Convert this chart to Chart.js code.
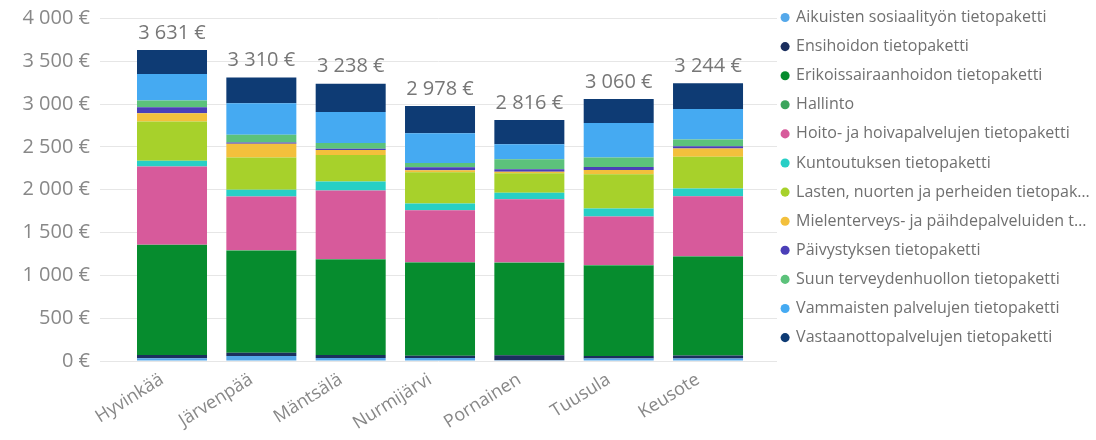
<!DOCTYPE html>
<html lang="fi">
<head>
<meta charset="utf-8">
<script src="https://cdn.jsdelivr.net/npm/chart.js@4.4.1/dist/chart.umd.min.js"></script>
<style>
    html, body { margin: 0; padding: 0; background: #ffffff; }
    #wrap { width: 1096px; height: 440px; }
</style>
</head>
<body>
<div id="wrap"><canvas id="costChart"></canvas></div>
<script>
const municipalities = ["Hyvinkää", "Järvenpää", "Mäntsälä", "Nurmijärvi", "Pornainen", "Tuusula", "Keusote"];
const totals = [3631, 3310, 3238, 2978, 2816, 3060, 3244];
const yTickValues = [0, 500, 1000, 1500, 2000, 2500, 3000, 3500, 4000];

const seriesNames = [
    "Aikuisten sosiaalityön tietopaketti",
    "Ensihoidon tietopaketti",
    "Erikoissairaanhoidon tietopaketti",
    "Hallinto",
    "Hoito- ja hoivapalvelujen tietopaketti",
    "Kuntoutuksen tietopaketti",
    "Lasten, nuorten ja perheiden tietopaketti",
    "Mielenterveys- ja päihdepalveluiden tietopaketti",
    "Päivystyksen tietopaketti",
    "Suun terveydenhuollon tietopaketti",
    "Vammaisten palvelujen tietopaketti",
    "Vastaanottopalvelujen tietopaketti"
];

// € per asukas, luettu kuvasta
const aikuistenSosiaalityo = [31, 58, 35, 35, 8, 30, 30];
const ensihoito = [39, 39, 35, 25, 60, 28, 35];
const erikoissairaanhoito = [1284, 1191, 1116, 1089, 1077, 1058, 1155];
const hallinto = [4, 4, 4, 4, 4, 4, 4];
const hoitoJaHoiva = [914, 630, 801, 607, 739, 568, 700];
const kuntoutus = [66, 78, 105, 78, 78, 93, 90];
const lastenNuortenPerheiden = [459, 377, 311, 366, 226, 400, 370];
const mielenterveysPaihde = [97, 160, 58, 23, 19, 51, 97];
const paivystys = [70, 15, 15, 35, 27, 35, 27];
const suunTerveydenhuolto = [78, 89, 66, 51, 117, 109, 78];
const vammaistenPalvelut = [311, 370, 362, 346, 175, 404, 358];
const vastaanottopalvelut = [278, 299, 330, 319, 286, 280, 300];

const seriesValues = [
    aikuistenSosiaalityo, ensihoito, erikoissairaanhoito, hallinto, hoitoJaHoiva, kuntoutus,
    lastenNuortenPerheiden, mielenterveysPaihde, paivystys, suunTerveydenhuolto,
    vammaistenPalvelut, vastaanottopalvelut
];

const seriesColors = [
    "#55a8ea", "#1b2f5e", "#068c2e", "#3ba55c", "#d75a9b", "#27cfc6",
    "#a7d12b", "#f3c03c", "#4b3fb8", "#5cc27b", "#45aaf2", "#0e3b74"
];

const FONT = "'Open Sans', 'Noto Sans', sans-serif";

function formatEuro(value) {
    return String(value).replace(/\B(?=(\d{3})+(?!\d))/g, " ") + " €";
}

function shortName(name) {
    return name.length > 38 ? name.slice(0, 37) + "…" : name;
}

const totalLabels = {
    id: "totalLabels",
    afterDatasetsDraw(chart) {
        const { ctx, scales: { x, y } } = chart;
        ctx.save();
        ctx.font = "20px " + FONT;
        ctx.fillStyle = "#777777";
        ctx.textAlign = "center";
        ctx.textBaseline = "bottom";
        totals.forEach((total, i) => {
            ctx.fillText(formatEuro(total), x.getPixelForValue(i), y.getPixelForValue(total) - 7);
        });
        ctx.restore();
    }
};

const datasets = seriesNames.map((name, i) => ({
    label: name,
    data: seriesValues[i].map((v, j) => ({ x: j, y: v })),
    backgroundColor: seriesColors[i],
    borderWidth: 0,
    barPercentage: 0.7836,
    categoryPercentage: 1
}));

new Chart(document.getElementById("costChart"), {
    type: "bar",
    data: { datasets: datasets },
    plugins: [totalLabels],
    options: {
        responsive: true,
        maintainAspectRatio: false,
        animation: false,
        layout: { padding: { top: 4.4, right: 0, bottom: 0, left: 0 } },
        scales: {
            x: {
                type: "linear",
                stacked: true,
                offset: false,
                min: -0.806,
                max: 6.772,
                afterFit: (scale) => { scale.height = 79; },
                afterBuildTicks: (scale) => {
                    scale.ticks = municipalities.map((_, i) => ({ value: i }));
                },
                grid: { display: false, offset: false, drawTicks: false },
                border: { display: false },
                ticks: {
                    autoSkip: false,
                    minRotation: 32,
                    maxRotation: 32,
                    padding: 8,
                    labelOffset: -10,
                    color: "#888888",
                    font: { family: FONT, size: 18 },
                    callback: (value) => municipalities[value]
                }
            },
            y: {
                stacked: true,
                min: 0,
                max: 4000,
                afterFit: (scale) => { scale.width = 100; },
                afterBuildTicks: (scale) => {
                    scale.ticks = yTickValues.map(v => ({ value: v }));
                },
                border: { display: false },
                grid: { color: "#e6e6e6", drawTicks: false },
                ticks: {
                    padding: 10,
                    color: "#888888",
                    font: { family: FONT, size: 20, lineHeight: 0.85 },
                    callback: (value) => formatEuro(value)
                }
            }
        },
        plugins: {
            tooltip: { enabled: false },
            legend: {
                position: "right",
                align: "start",
                maxWidth: 319,
                labels: {
                    usePointStyle: true,
                    pointStyle: "circle",
                    boxWidth: 6,
                    boxHeight: 6.4,
                    padding: 5.1,
                    color: "#707070",
                    font: { family: FONT, size: 16, lineHeight: "24px" },
                    generateLabels: (chart) => chart.data.datasets.map((ds, i) => ({
                        text: [shortName(ds.label)],
                        fillStyle: ds.backgroundColor,
                        strokeStyle: ds.backgroundColor,
                        lineWidth: 0,
                        pointStyle: "circle",
                        fontColor: "#707070",
                        datasetIndex: i,
                        hidden: false
                    }))
                }
            }
        }
    }
});
</script>
</body>
</html>
